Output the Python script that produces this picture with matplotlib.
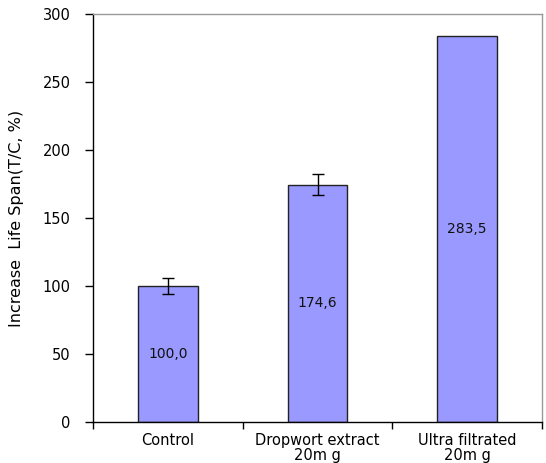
import matplotlib
matplotlib.use("Agg")
import matplotlib.pyplot as plt
import numpy as np

categories = ["Control", "Dropwort extract\n20m g", "Ultra filtrated\n20m g"]
values = [100.0, 174.6, 283.5]
errors = [6.0, 7.5, 0.0]
value_labels = ["100,0", "174,6", "283,5"]

plt.rcParams['font.family'] = ['DejaVu Sans']

fig = plt.figure(figsize=(5.46, 4.63), dpi=100)
ax = fig.add_axes([93/546, 1 - 422/463, (542-93)/546, (422-14)/463])

x = np.arange(len(categories))
ax.bar(x, values, width=0.4, color="#9999FF", edgecolor="#222222", linewidth=1.0, zorder=2)
for xi, v, e in zip(x, values, errors):
    if e > 0:
        ax.errorbar(xi, v, yerr=e, fmt='none', ecolor='black', elinewidth=1.0, capsize=4, capthick=1.0, zorder=3)
for xi, v, lab in zip(x, values, value_labels):
    ax.text(xi, v/2, lab, ha='center', va='center', fontsize=10, color='#111111', zorder=4)

ax.set_xlim(-0.5, 2.5)
ax.set_ylim(0, 300)
ax.set_yticks(np.arange(0, 301, 50))
ax.set_xticks([-0.5, 0.5, 1.5, 2.5])
ax.set_xticklabels([])
ax.set_xticks(x, minor=True)
ax.set_xticklabels(categories, minor=True, fontsize=10.5, linespacing=1.0)
ax.tick_params(axis='x', which='minor', length=0, pad=8)
ax.tick_params(axis='x', which='major', length=5, direction='out', width=1)
ax.tick_params(axis='y', length=6, direction='out', width=1, labelsize=10.5, pad=10)
ax.set_ylabel("Increase  Life Span(T/C, %)", fontsize=11.5, labelpad=10)
ax.yaxis.set_label_coords(-(93-24)/449, 0.5)

for s in ['left', 'bottom']:
    ax.spines[s].set_color('black')
    ax.spines[s].set_linewidth(1.0)
for s in ['top', 'right']:
    ax.spines[s].set_color('#999999')
    ax.spines[s].set_linewidth(1.0)

fig.savefig("out.png", dpi=100)
